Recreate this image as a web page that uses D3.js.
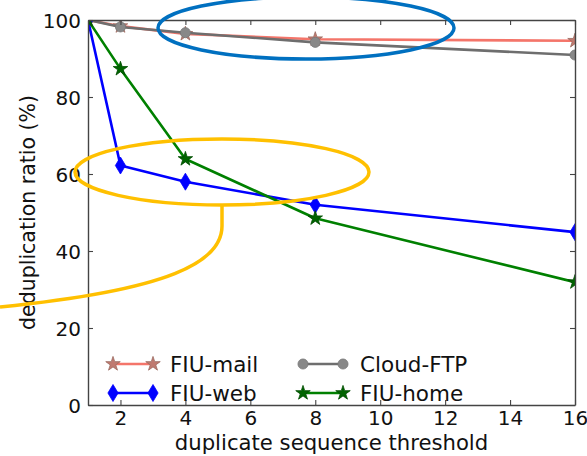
<!DOCTYPE html>
<html>
<head>
<meta charset="utf-8">
<script src="https://cdn.jsdelivr.net/npm/d3@7"></script>
<style>
  html, body { margin: 0; padding: 0; background: #fff; }
  svg { display: block; }
  text { font-family: "DejaVu Sans", sans-serif; fill: #111; }
</style>
</head>
<body>
<svg id="chart" width="587" height="456"></svg>
<script>
// Duplicate-sequence thresholds and deduplication ratios per trace
const thresholds = [1, 2, 4, 8, 16];
const fiuMail  = [100, 98.4, 96.4, 95.0, 94.6];
const cloudFtp = [100, 98.2, 96.7, 94.2, 90.9];
const fiuWeb   = [100, 62.2, 58.0, 52.0, 44.9];
const fiuHome  = [100, 87.3, 63.9, 48.5, 31.9];

const seriesNames = ["FIU-mail", "FIU-web", "Cloud-FTP", "FIU-home"];
const xTicks = [2, 4, 6, 8, 10, 12, 14, 16];
const yTicks = [0, 20, 40, 60, 80, 100];

const svg = d3.select("#chart");
const m = { left: 88, right: 12, top: 20, bottom: 51 };
const W = 587, H = 456;
const x = d3.scaleLinear().domain([1, 16]).range([m.left, W - m.right]);
const y = d3.scaleLinear().domain([0, 100]).range([H - m.bottom, m.top]);

// thin diamond like matplotlib's 'd'
const thinDiamond = {
  draw(ctx, size) {
    const h = Math.sqrt(size) * 0.95, w = h * 0.6;
    ctx.moveTo(0, -h); ctx.lineTo(w, 0); ctx.lineTo(0, h); ctx.lineTo(-w, 0); ctx.closePath();
  }
};

const series = [
  { name: seriesNames[0], values: fiuMail,  line: "#f4756a", mark: "#c07a70", edge: "#9a6a60", sym: d3.symbolStar, size: 65 },
  { name: seriesNames[2], values: cloudFtp, line: "#6e6e6e", mark: "#888888", edge: "#777777", sym: d3.symbolCircle, size: 80 },
  { name: seriesNames[1], values: fiuWeb,   line: "#0000ff", mark: "#0000ff", edge: "#0000ff", sym: thinDiamond, size: 80 },
  { name: seriesNames[3], values: fiuHome,  line: "#008000", mark: "#006400", edge: "#004d00", sym: d3.symbolStar, size: 65 }
];

svg.append("defs").append("clipPath").attr("id", "plotClip")
  .append("rect").attr("x", x(1)).attr("y", y(100))
  .attr("width", x(16) - x(1)).attr("height", y(0) - y(100));

const plot = svg.append("g").attr("clip-path", "url(#plotClip)");
const lineGen = d3.line().x((d, i) => x(thresholds[i])).y(d => y(d));

series.forEach(s => {
  plot.append("path").datum(s.values)
    .attr("d", lineGen).attr("fill", "none")
    .attr("stroke", s.line).attr("stroke-width", 2.6).attr("stroke-linejoin", "round");
  plot.selectAll(null).data(s.values).enter().append("path")
    .attr("transform", (d, i) => `translate(${x(thresholds[i])},${y(d)})`)
    .attr("d", d3.symbol().type(s.sym).size(s.size))
    .attr("fill", s.mark).attr("stroke", s.edge).attr("stroke-width", 0.8);
});

// Axes: ticks point inward on all four sides
const frame = "#444";
const tickLen = 5;
const axBottom = svg.append("g").attr("transform", `translate(0,${y(0)})`)
  .call(d3.axisBottom(x).tickValues(xTicks).tickSizeInner(-tickLen).tickSizeOuter(0).tickPadding(6));
const axTop = svg.append("g").attr("transform", `translate(0,${y(100)})`)
  .call(d3.axisTop(x).tickValues(xTicks).tickSizeInner(-tickLen).tickSizeOuter(0).tickFormat(""));
const axLeft = svg.append("g").attr("transform", `translate(${x(1)},0)`)
  .call(d3.axisLeft(y).tickValues(yTicks).tickSizeInner(-tickLen).tickSizeOuter(0).tickPadding(7));
const axRight = svg.append("g").attr("transform", `translate(${x(16)},0)`)
  .call(d3.axisRight(y).tickValues(yTicks).tickSizeInner(-tickLen).tickSizeOuter(0).tickFormat(""));

[axBottom, axTop, axLeft, axRight].forEach(g => {
  g.select(".domain").attr("stroke", frame).attr("stroke-width", 1.4);
  g.selectAll(".tick line").attr("stroke", frame).attr("stroke-width", 1.1);
  g.selectAll(".tick text").attr("font-size", 20).attr("font-family", "DejaVu Sans").attr("fill", "#111");
});
axBottom.selectAll(".tick text").attr("dy", "0.72em");
axLeft.selectAll(".tick text").attr("dy", "0.36em");

// Axis titles
svg.append("text").attr("x", (x(1) + x(16)) / 2).attr("y", 450)
  .attr("text-anchor", "middle").attr("font-size", 21.2).text("duplicate sequence threshold");
svg.append("text").attr("transform", `translate(35,${(y(0) + y(100)) / 2})rotate(-90)`)
  .attr("text-anchor", "middle").attr("font-size", 20.5).text("deduplication ratio (%)");

// Legend: two columns, line with two markers per entry
const legendOrder = [
  { s: series[0], col: 0, row: 0 },
  { s: series[2], col: 0, row: 1 },
  { s: series[1], col: 1, row: 0 },
  { s: series[3], col: 1, row: 1 }
];
const colX = [113, 303], rowY = [364, 393];
legendOrder.forEach(({ s, col, row }) => {
  const lx = colX[col], ly = rowY[row];
  svg.append("line").attr("x1", lx).attr("x2", lx + 40).attr("y1", ly).attr("y2", ly)
    .attr("stroke", s.line).attr("stroke-width", 2.6);
  [lx, lx + 40].forEach(px => {
    svg.append("path").attr("transform", `translate(${px},${ly})`)
      .attr("d", d3.symbol().type(s.sym).size(s.size))
      .attr("fill", s.mark).attr("stroke", s.edge).attr("stroke-width", 0.8);
  });
  svg.append("text").attr("x", lx + 57).attr("y", ly).attr("dy", "0.36em")
    .attr("font-size", 21.5).text(s.name);
});

// Highlight callouts
const notes = svg.append("g").attr("fill", "none").attr("stroke-width", 3.5);
notes.append("ellipse").attr("cx", 306).attr("cy", 28).attr("rx", 148).attr("ry", 31)
  .attr("stroke", "#0070c0");
notes.append("ellipse").attr("cx", 222).attr("cy", 172).attr("rx", 147).attr("ry", 33)
  .attr("stroke", "#ffc000");
notes.append("path").attr("d", "M222,205 L222,226 C222,262 170,290 0,307")
  .attr("stroke", "#ffc000");
</script>
</body>
</html>
